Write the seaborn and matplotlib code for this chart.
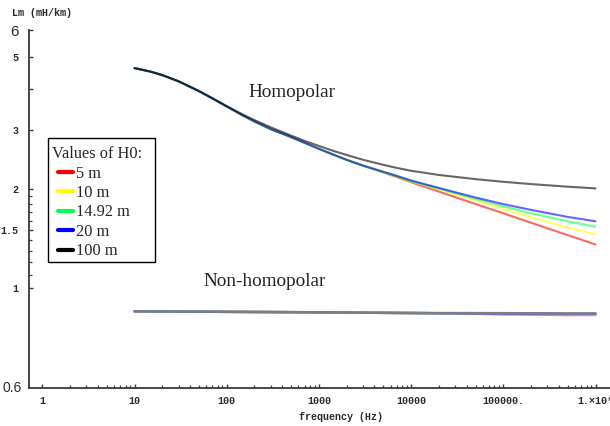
import matplotlib
matplotlib.use("Agg")
import matplotlib.pyplot as plt
from matplotlib.legend_handler import HandlerLine2D
from matplotlib.lines import Line2D
from matplotlib.patches import Rectangle
from matplotlib.ticker import NullFormatter
import pandas as pd
import seaborn as sns

# ---- data -------------------------------------------------------------
freq = [10, 15, 20, 30, 50, 70, 100, 150, 200, 300, 500, 700, 1e3, 1.5e3, 2e3, 3e3,
        5e3, 7e3, 1e4, 2e4, 5e4, 1e5, 2e5, 5e5, 1e6]

homo_5 = [4.620, 4.506, 4.400, 4.215, 3.937, 3.742, 3.537, 3.322, 3.187, 3.022, 2.859, 2.748,
          2.636, 2.519, 2.441, 2.346, 2.236, 2.166, 2.090, 1.958, 1.796, 1.684, 1.577, 1.447, 1.356]
homo_10 = [4.620, 4.506, 4.400, 4.215, 3.937, 3.742, 3.537, 3.322, 3.187, 3.022, 2.859, 2.748,
           2.636, 2.519, 2.441, 2.346, 2.241, 2.175, 2.101, 1.990, 1.843, 1.736, 1.639, 1.525, 1.456]
homo_1492 = [4.620, 4.506, 4.400, 4.215, 3.937, 3.742, 3.537, 3.322, 3.187, 3.022, 2.859, 2.748,
             2.636, 2.519, 2.441, 2.346, 2.244, 2.180, 2.108, 2.001, 1.862, 1.768, 1.684, 1.592, 1.534]
homo_20 = [4.620, 4.506, 4.400, 4.215, 3.937, 3.742, 3.537, 3.322, 3.187, 3.022, 2.859, 2.748,
           2.636, 2.519, 2.441, 2.346, 2.247, 2.184, 2.115, 2.008, 1.879, 1.795, 1.724, 1.642, 1.593]
homo_100 = [4.620, 4.506, 4.400, 4.215, 3.937, 3.745, 3.547, 3.343, 3.218, 3.061, 2.889, 2.784,
            2.689, 2.588, 2.526, 2.443, 2.358, 2.308, 2.263, 2.198, 2.135, 2.096, 2.063, 2.026, 2.002]

freq_nh = [10, 100, 1e3, 1e4, 1e5, 5e5, 1e6]
nh_5 = [0.852, 0.849, 0.846, 0.842, 0.836, 0.830, 0.831]
nh_10 = [0.852, 0.849, 0.846, 0.842, 0.837, 0.834, 0.831]
nh_1492 = [0.852, 0.849, 0.846, 0.842, 0.837, 0.835, 0.834]
nh_20 = [0.852, 0.849, 0.846, 0.842, 0.836, 0.835, 0.835]
nh_100 = [0.852, 0.849, 0.846, 0.842, 0.841, 0.840, 0.840]

h0_labels = ["5 m", "10 m", "14.92 m", "20 m", "100 m"]

x_ticks = [1, 10, 100, 1000, 10000, 100000, 1000000]
x_tick_labels = ["1", "10", "100", "1000", "10000", "100000.", "1.×10⁶"]
y_ticks = [1, 1.5, 2, 3, 4, 5, 6]
y_tick_labels = ["1", "1.5", "2", "3", "", "5", "6"]
y_minor = [1.1, 1.2, 1.3, 1.4, 1.6, 1.7, 1.8, 1.9]


def long_table(xs, series):
    rows = []
    for label, ys in zip(h0_labels, series):
        for x, y in zip(xs, ys):
            rows.append({"freq": x, "Lm": y, "H0": label})
    return pd.DataFrame(rows)


homo = long_table(freq, [homo_5, homo_10, homo_1492, homo_20, homo_100])
nonhomo = long_table(freq_nh, [nh_5, nh_10, nh_1492, nh_20, nh_100])

# ---- style ------------------------------------------------------------
sns.set_style("ticks")
plt.rcParams["font.family"] = ["Liberation Mono", "DejaVu Sans Mono"]

mono = {"family": ["Liberation Mono", "DejaVu Sans Mono"], "weight": "bold", "size": 7.2}
serif_family = ["Liberation Serif", "DejaVu Serif"]

W, H = 610, 426
fig = plt.figure(figsize=(W / 100, H / 100), dpi=100)
ax = fig.add_axes([29 / W, 38 / H, 581 / W, 358 / H])

pure = ["#ff0000", "#ffff00", "#00ff55", "#0000ff", "#000000"]
soft = ["#ff6f6f", "#ffff70", "#6cff9a", "#6c6cff", "#7e7e7e"]

sns.lineplot(data=homo, x="freq", y="Lm", hue="H0", hue_order=h0_labels,
             palette=pure, alpha=0.6, linewidth=1.5, ax=ax, legend=True)
sns.lineplot(data=nonhomo, x="freq", y="Lm", hue="H0", hue_order=h0_labels,
             palette=soft, linewidth=1.8, ax=ax, legend=False)

ax.set_xscale("log")
ax.set_yscale("log")
ax.set_xlim(0.717, 1.436e6)
ax.set_ylim(0.5, 6.02)

for side in ("top", "right"):
    ax.spines[side].set_visible(False)
for side in ("left", "bottom"):
    ax.spines[side].set_linewidth(1.3)
    ax.spines[side].set_color("#3a3a3a")

ax.set_xticks(x_ticks)
ax.set_xticklabels(x_tick_labels, fontdict=mono, color="#2a2a2a")
ax.set_xticks([k * 10 ** d for d in range(0, 6) for k in range(2, 10)], minor=True)
ax.xaxis.set_minor_formatter(NullFormatter())

ax.set_yticks(y_ticks)
ax.set_yticklabels(y_tick_labels, fontdict=mono, color="#2a2a2a")
ax.set_yticks(y_minor, minor=True)
ax.yaxis.set_minor_formatter(NullFormatter())
top_label = ax.get_yticklabels()[-1]
top_label.set_fontfamily(["Liberation Sans", "DejaVu Sans"])
top_label.set_fontweight("normal")
top_label.set_fontsize(11)

ax.tick_params(axis="both", which="major", direction="in", length=3.2, width=1.0, color="#3a3a3a")
ax.tick_params(axis="both", which="minor", direction="in", length=2.2, width=0.9, color="#3a3a3a")
ax.tick_params(axis="x", which="major", pad=6)
ax.tick_params(axis="y", which="major", pad=7.5)

# corner label at the bottom of the value axis
ax.text(-0.012, 0.0, "0.6", transform=ax.transAxes, ha="right", va="center",
        family=["Liberation Sans", "DejaVu Sans"], fontsize=10, color="#2a2a2a")

ax.set_xlabel("frequency (Hz)", fontdict=mono, color="#2a2a2a")
ax.xaxis.set_label_coords(0.537, -0.068)
ax.set_ylabel("Lm (mH/km)", fontdict=mono, color="#2a2a2a", rotation=0, ha="left", va="center")
ax.yaxis.set_label_coords(-0.0293, 1.0475)

ax.text(507, 3.89, "Homopolar", ha="center", va="center",
        family=serif_family, fontsize=13.8, color="#222222")
ax.text(260, 1.05, "Non-homopolar", ha="center", va="center",
        family=serif_family, fontsize=13.8, color="#222222")

# ---- legend -----------------------------------------------------------
old = ax.get_legend()
handles = old.legend_handles
labels = [t.get_text() for t in old.get_texts()]
old.remove()

box_left, box_top, box_w, box_h = 48.3, 138.3, 106.7, 123.4
ax.add_patch(Rectangle((box_left / W, (H - box_top - box_h) / H), box_w / W, box_h / H,
                       transform=fig.transFigure, facecolor="white", edgecolor="black",
                       linewidth=1.0, zorder=4.9, clip_on=False))

serif_prop = {"family": serif_family, "size": 11.8}
leg = ax.legend(handles, labels, title="Values of H0:", loc="upper left",
                bbox_to_anchor=(box_left / W, (H - box_top - 4.5) / H),
                bbox_transform=fig.transFigure,
                borderaxespad=0, frameon=False, prop=serif_prop,
                title_fontproperties=serif_prop, alignment="left",
                handlelength=1.32, handletextpad=0.165, labelspacing=0.21, borderpad=0.2,
                handler_map={Line2D: HandlerLine2D(xpad=0.4)})
leg.set_zorder(5)
for line in leg.get_lines():
    line.set_alpha(1)
    line.set_linewidth(3)

fig.savefig("out.png", dpi=100)
